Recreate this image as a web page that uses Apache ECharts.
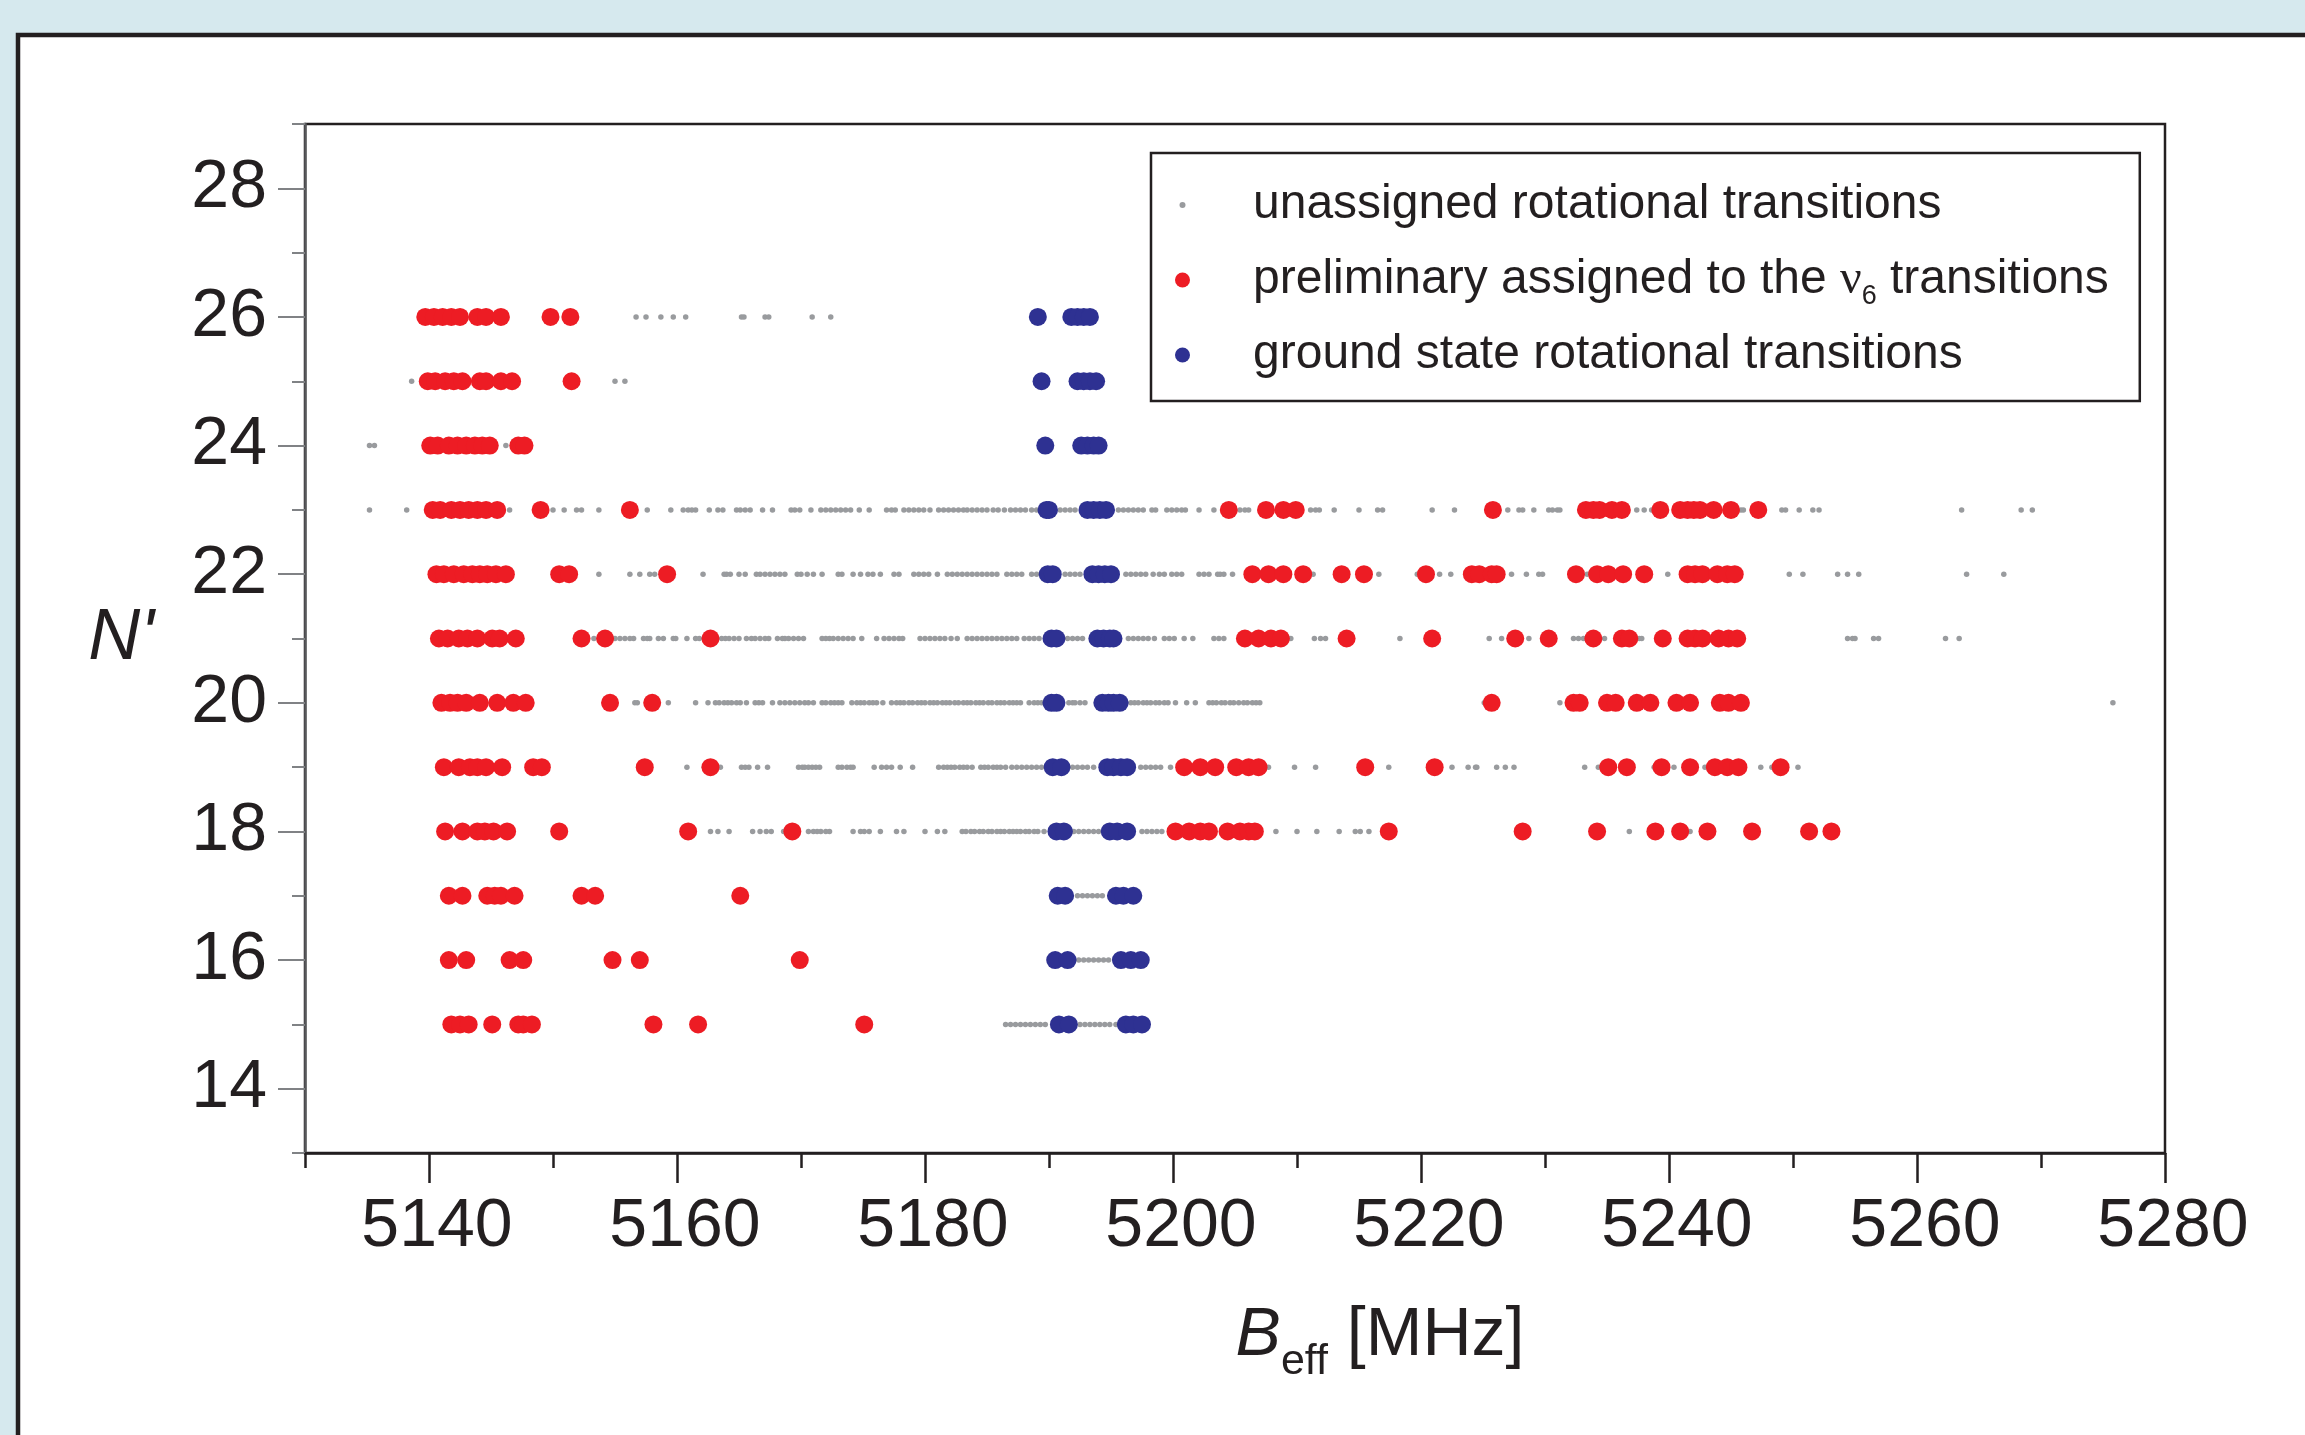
<!DOCTYPE html>
<html>
<head>
<meta charset="utf-8">
<script src="https://cdn.jsdelivr.net/npm/echarts@6/dist/echarts.min.js"></script>
<style>
  html, body { margin: 0; padding: 0; background: #d6e9ee; }
  #chart { width: 2305px; height: 1435px; }
</style>
</head>
<body>
<div id="chart"></div>
<script>
// B_eff values [MHz] per rotational level N'
const gray26 = [5156.7, 5157.5, 5158.7, 5159.7, 5160.7, 5165.2, 5165.4, 5167.1, 5167.4, 5170.9, 5172.4]
const gray25 = [5138.6, 5155.0, 5155.8]
const gray24 = [5135.2, 5135.6, 5146.2]
const gray23 = [5135.2, 5138.2, 5146.5, 5150.0, 5150.9, 5151.9, 5152.3, 5153.7, 5157.6, 5159.5, 5160.5, 5160.9, 5161.2, 5161.5,
  5162.6, 5163.3, 5163.7, 5164.8, 5165.1, 5165.5, 5165.9, 5166.9, 5167.7, 5169.2, 5169.5, 5169.9, 5170.8, 5171.6, 5172.0,
  5172.4, 5172.8, 5173.2, 5173.6, 5174.0, 5174.7, 5175.5, 5176.9, 5177.3, 5177.6, 5178.3, 5178.7, 5179.1, 5179.5, 5179.9,
  5180.4, 5181.1, 5181.5, 5181.9, 5182.3, 5182.7, 5183.1, 5183.4, 5183.8, 5184.2, 5184.6, 5185.0, 5185.5, 5185.9, 5186.4,
  5186.9, 5187.3, 5187.7, 5188.1, 5188.6, 5189.0, 5190.9, 5191.3, 5191.7, 5192.1, 5195.6, 5196.0, 5196.4, 5196.8, 5197.2,
  5197.6, 5198.3, 5198.6, 5199.5, 5199.9, 5200.3, 5200.7, 5201.0, 5202.1, 5203.3, 5205.4, 5205.8, 5206.1, 5211.1, 5211.5,
  5211.8, 5213.0, 5215.0, 5216.5, 5216.9, 5220.9, 5222.7, 5227.0, 5227.9, 5228.2, 5229.1, 5230.3, 5230.6, 5231.0, 5231.2,
  5237.4, 5238.0, 5238.6, 5245.8, 5246.0, 5249.1, 5249.4, 5250.5, 5251.6, 5252.1, 5263.6, 5268.4, 5269.3]
const gray22 = [5153.7, 5156.2, 5157.0, 5157.8, 5158.2, 5162.1, 5163.8, 5164.0, 5164.3, 5165.0, 5165.5, 5166.4, 5166.7, 5167.1,
  5167.5, 5167.9, 5168.3, 5168.7, 5169.7, 5170.0, 5170.5, 5171.0, 5171.7, 5173.0, 5173.3, 5174.2, 5174.8, 5175.4, 5175.8,
  5176.4, 5177.5, 5177.9, 5179.1, 5179.5, 5179.9, 5180.3, 5181.0, 5181.8, 5182.2, 5182.6, 5183.0, 5183.4, 5183.8, 5184.2,
  5184.6, 5185.0, 5185.4, 5185.8, 5186.6, 5187.0, 5187.4, 5187.8, 5188.6, 5189.0, 5191.3, 5191.7, 5192.1, 5192.5, 5196.2,
  5196.6, 5197.0, 5197.4, 5197.8, 5198.4, 5198.9, 5199.3, 5199.9, 5200.3, 5200.7, 5202.1, 5202.5, 5202.9, 5203.6, 5203.8,
  5204.1, 5204.8, 5211.3, 5216.6, 5219.7, 5221.5, 5222.4, 5227.3, 5228.5, 5229.5, 5229.8, 5233.4, 5239.9, 5249.7, 5250.8,
  5253.6, 5254.4, 5255.3, 5264.0, 5267.0]
const gray21 = [5153.3, 5155.0, 5155.4, 5155.8, 5156.2, 5156.5, 5157.3, 5157.6, 5157.8, 5158.5, 5158.9, 5159.7, 5159.9, 5160.8,
  5161.5, 5161.8, 5163.6, 5163.9, 5164.2, 5164.6, 5165.0, 5165.6, 5166.0, 5166.3, 5166.7, 5167.1, 5167.4, 5168.1, 5168.5,
  5168.7, 5169.0, 5169.4, 5169.8, 5170.2, 5171.7, 5172.0, 5172.3, 5172.6, 5173.0, 5173.4, 5173.8, 5174.2, 5174.9, 5176.1,
  5176.7, 5177.1, 5177.5, 5177.9, 5178.2, 5179.6, 5180.0, 5180.4, 5180.8, 5181.2, 5181.6, 5182.1, 5182.6, 5183.4, 5183.8,
  5184.2, 5184.6, 5185.0, 5185.4, 5185.8, 5186.2, 5186.6, 5187.0, 5187.4, 5188.0, 5188.4, 5188.8, 5189.2, 5191.5, 5191.9,
  5192.3, 5192.7, 5196.4, 5196.8, 5197.2, 5197.6, 5198.0, 5198.5, 5199.3, 5199.7, 5200.1, 5200.9, 5201.6, 5203.3, 5203.7,
  5204.1, 5209.5, 5211.4, 5211.9, 5212.3, 5218.3, 5225.5, 5226.5, 5228.7, 5232.3, 5232.7, 5233.1, 5234.8, 5237.6, 5237.8,
  5254.4, 5254.8, 5255.0, 5256.5, 5256.9, 5262.3, 5263.4]
const gray20 = [5156.6, 5156.8, 5159.3, 5161.5, 5162.5, 5163.1, 5163.4, 5163.8, 5164.1, 5164.4, 5164.8, 5165.1, 5165.6, 5166.3,
  5166.6, 5166.9, 5167.7, 5168.3, 5168.7, 5169.1, 5169.5, 5169.9, 5170.3, 5170.6, 5171.0, 5171.7, 5172.0, 5172.4, 5172.7,
  5173.0, 5173.3, 5174.1, 5174.5, 5174.8, 5175.1, 5175.5, 5175.8, 5176.1, 5176.6, 5177.3, 5177.7, 5178.0, 5178.3, 5178.7,
  5179.0, 5179.4, 5179.7, 5180.0, 5180.4, 5180.7, 5181.0, 5181.4, 5181.7, 5182.0, 5182.4, 5182.7, 5183.1, 5183.4, 5183.7,
  5184.1, 5184.4, 5184.7, 5185.1, 5185.4, 5185.8, 5186.1, 5186.4, 5186.8, 5187.1, 5187.4, 5187.7, 5188.4, 5188.8, 5189.1,
  5189.4, 5191.6, 5191.9, 5192.1, 5192.5, 5192.9, 5196.6, 5196.9, 5197.2, 5197.6, 5197.9, 5198.2, 5198.6, 5198.9, 5199.3,
  5199.6, 5200.2, 5201.1, 5201.8, 5202.9, 5203.2, 5203.5, 5203.9, 5204.2, 5204.6, 5204.9, 5205.3, 5205.7, 5206.0, 5206.4,
  5206.7, 5207.0, 5225.1, 5231.2, 5275.8]
const gray19 = [5160.8, 5162.2, 5163.5, 5165.2, 5165.5, 5165.8, 5166.5, 5167.3, 5169.8, 5170.1, 5170.3, 5170.6, 5170.9, 5171.2,
  5171.5, 5173.0, 5173.3, 5173.7, 5174.0, 5174.2, 5175.9, 5176.5, 5176.9, 5177.3, 5178.0, 5179.0, 5181.1, 5181.5, 5181.8,
  5182.1, 5182.4, 5182.8, 5183.1, 5183.4, 5183.8, 5184.5, 5184.8, 5185.1, 5185.5, 5185.8, 5186.1, 5186.5, 5187.0, 5187.4,
  5187.8, 5188.2, 5188.6, 5189.0, 5189.4, 5191.9, 5192.3, 5192.7, 5193.1, 5193.6, 5197.4, 5197.8, 5198.2, 5198.6, 5199.0,
  5199.8, 5207.7, 5209.8, 5211.5, 5217.4, 5222.5, 5223.8, 5224.4, 5224.5, 5226.1, 5226.8, 5227.5, 5233.2, 5234.3, 5238.8,
  5240.4, 5242.9, 5247.4, 5248.3, 5250.4]
const gray18 = [5162.7, 5163.3, 5164.2, 5166.1, 5166.7, 5167.2, 5167.6, 5168.6, 5170.6, 5171.0, 5171.3, 5171.6, 5172.0, 5172.3,
  5174.2, 5174.8, 5175.1, 5175.5, 5176.4, 5177.7, 5178.3, 5180.0, 5181.0, 5181.6, 5183.0, 5183.3, 5183.7, 5184.0, 5184.4,
  5184.7, 5185.1, 5185.4, 5185.8, 5186.1, 5186.4, 5186.8, 5187.1, 5187.4, 5187.7, 5188.1, 5188.4, 5188.8, 5189.1, 5189.6,
  5192.0, 5192.4, 5192.8, 5193.2, 5193.6, 5194.0, 5197.5, 5197.9, 5198.3, 5198.7, 5199.1, 5208.3, 5210.0, 5211.6, 5213.4,
  5214.7, 5215.1, 5215.8, 5236.8, 5241.7]
const gray17 = [5192.3, 5192.7, 5193.1, 5193.5, 5193.9, 5194.3]
const gray16 = [5192.4, 5192.8, 5193.2, 5193.6, 5194.0, 5194.4, 5194.8]
const gray15 = [5186.5, 5186.9, 5187.3, 5187.7, 5188.1, 5188.5, 5188.9, 5189.3, 5189.7, 5192.5, 5192.9, 5193.3, 5193.7, 5194.1,
  5194.5, 5194.9, 5195.4]

const red26 = [5139.7, 5140.4, 5141.1, 5141.8, 5142.5, 5143.9, 5144.6, 5145.8, 5149.8, 5151.4]
const red25 = [5139.9, 5140.5, 5141.3, 5142.0, 5142.7, 5144.1, 5144.6, 5145.8, 5146.7, 5151.5]
const red24 = [5140.1, 5140.7, 5141.6, 5142.3, 5143.0, 5143.7, 5144.3, 5144.9, 5147.2, 5147.7]
const red23 = [5140.3, 5140.9, 5141.8, 5142.5, 5143.2, 5143.9, 5144.6, 5145.5, 5149.0, 5156.2, 5204.5, 5207.5, 5208.9, 5209.9,
  5225.8, 5233.3, 5233.9, 5234.4, 5235.4, 5236.2, 5239.3, 5240.9, 5241.5, 5242.0, 5242.5, 5243.6, 5245.0, 5247.2]
const red22 = [5140.6, 5141.2, 5142.0, 5142.8, 5143.5, 5144.1, 5144.7, 5145.4, 5146.2, 5150.5, 5151.3, 5159.2, 5206.4, 5207.7,
  5208.9, 5210.5, 5213.6, 5215.4, 5220.4, 5224.1, 5224.7, 5225.7, 5226.1, 5232.5, 5234.2, 5235.1, 5236.3, 5238.0, 5241.5,
  5242.1, 5242.7, 5243.9, 5244.7, 5245.3]
const red21 = [5140.8, 5141.5, 5142.4, 5143.1, 5143.9, 5145.1, 5145.7, 5147.0, 5152.3, 5154.2, 5162.7, 5205.8, 5206.9, 5207.9,
  5208.7, 5214.0, 5220.9, 5227.6, 5230.3, 5233.9, 5236.2, 5236.8, 5239.5, 5241.5, 5242.1, 5242.7, 5244.0, 5244.8, 5245.5]
const red20 = [5141.0, 5141.7, 5142.3, 5143.0, 5144.1, 5145.5, 5146.8, 5147.8, 5154.6, 5158.0, 5225.7, 5232.3, 5232.8, 5235.0,
  5235.7, 5237.4, 5238.5, 5240.6, 5241.7, 5244.1, 5244.8, 5245.8]
const red19 = [5141.2, 5142.4, 5143.3, 5143.9, 5144.6, 5145.9, 5148.4, 5149.1, 5157.4, 5162.7, 5200.9, 5202.2, 5203.4, 5205.1,
  5206.1, 5206.9, 5215.5, 5221.1, 5235.1, 5236.6, 5239.4, 5241.7, 5243.7, 5244.7, 5245.6, 5249.0]
const red18 = [5141.3, 5142.7, 5143.9, 5144.5, 5145.2, 5146.3, 5150.5, 5160.9, 5169.3, 5200.2, 5201.3, 5202.2, 5202.9, 5204.4,
  5205.4, 5206.1, 5206.6, 5217.4, 5228.2, 5234.2, 5238.9, 5240.9, 5243.1, 5246.7, 5251.3, 5253.1]
const red17 = [5141.6, 5142.7, 5144.7, 5145.3, 5145.8, 5146.9, 5152.3, 5153.4, 5165.1]
const red16 = [5141.6, 5143.0, 5146.5, 5147.6, 5154.8, 5157.0, 5169.9]
const red15 = [5141.8, 5142.5, 5143.2, 5145.1, 5147.2, 5147.6, 5148.3, 5158.1, 5161.7, 5175.1]

const blue26 = [5189.1, 5191.8, 5192.3, 5192.8, 5193.3]
const blue25 = [5189.4, 5192.3, 5192.8, 5193.3, 5193.8]
const blue24 = [5189.7, 5192.6, 5193.1, 5193.6, 5194.0]
const blue23 = [5189.8, 5190.0, 5193.1, 5193.6, 5194.1, 5194.6]
const blue22 = [5189.9, 5190.3, 5193.5, 5194.0, 5194.5, 5195.0]
const blue21 = [5190.2, 5190.6, 5193.9, 5194.4, 5194.9, 5195.2]
const blue20 = [5190.2, 5190.6, 5194.3, 5194.8, 5195.2, 5195.7]
const blue19 = [5190.3, 5191.0, 5194.7, 5195.2, 5195.8, 5196.3]
const blue18 = [5190.6, 5191.2, 5194.9, 5195.5, 5196.3]
const blue17 = [5190.7, 5191.3, 5195.4, 5196.0, 5196.8]
const blue16 = [5190.5, 5191.5, 5195.8, 5196.6, 5197.4]
const blue15 = [5190.8, 5191.6, 5196.2, 5196.8, 5197.5]

const grayRows = [[26, gray26], [25, gray25], [24, gray24], [23, gray23], [22, gray22], [21, gray21],
  [20, gray20], [19, gray19], [18, gray18], [17, gray17], [16, gray16], [15, gray15]]
const redRows = [[26, red26], [25, red25], [24, red24], [23, red23], [22, red22], [21, red21],
  [20, red20], [19, red19], [18, red18], [17, red17], [16, red16], [15, red15]]
const blueRows = [[26, blue26], [25, blue25], [24, blue24], [23, blue23], [22, blue22], [21, blue21],
  [20, blue20], [19, blue19], [18, blue18], [17, blue17], [16, blue16], [15, blue15]]

const xMajorTicks = [5140, 5160, 5180, 5200, 5220, 5240, 5260, 5280]
const yMajorTicks = [14, 16, 18, 20, 22, 24, 26, 28]

const seriesNames = ['unassigned rotational transitions', 'preliminary assigned to the v6 transitions',
  'ground state rotational transitions']

function toPoints(rows) {
  let pts = []
  rows.forEach(([n, xs]) => xs.forEach(b => pts.push([b, n])))
  return pts
}

const ink = '#231f20'
const font = 'Liberation Sans, Arial, sans-serif'

let myChart = echarts.init(document.getElementById('chart'))
myChart.setOption({
  animation: false,
  backgroundColor: '#d6e9ee',
  textStyle: { fontFamily: font, color: ink },
  graphic: [{
    type: 'rect', z: -1,
    shape: { x: 18, y: 35, width: 2400, height: 1500 },
    style: { fill: '#ffffff', stroke: ink, lineWidth: 4.5 }
  }],
  grid: {
    left: 305, top: 124, right: 140, bottom: 282,
    show: true, borderColor: ink, borderWidth: 2.5, backgroundColor: 'transparent'
  },
  legend: {
    orient: 'vertical',
    left: 1151, top: 153,
    padding: [22, 31, 16, 24],
    borderColor: ink, borderWidth: 2.5,
    itemWidth: 15, itemHeight: 15, itemGap: 15,
    textStyle: {
      fontFamily: font, fontSize: 48, color: ink, lineHeight: 60,
      padding: [0, 0, 0, 58],
      rich: {
        nu: { fontFamily: 'Liberation Serif, serif', fontSize: 48, lineHeight: 60, color: ink },
        sub: { fontFamily: font, fontSize: 27, lineHeight: 27, verticalAlign: 'bottom', color: ink }
      }
    },
    formatter: function(name) {
      if (name === seriesNames[1]) return 'preliminary assigned to the {nu|\u03bd}{sub|6} transitions'
      return name
    },
    data: [
      { name: seriesNames[0], icon: 'path://M0,0M15,15M7.5,4.5A3,3,0,1,1,7.5,10.5A3,3,0,1,1,7.5,4.5Z' },
      { name: seriesNames[1], icon: 'circle' },
      { name: seriesNames[2], icon: 'circle' }
    ]
  },
  xAxis: [{
    type: 'value', min: 5130, max: 5280, interval: 10, position: 'bottom',
    axisLine: { show: true, lineStyle: { color: ink, width: 2.5 } },
    axisTick: { show: true, length: 15, lineStyle: { color: ink, width: 2.5 } },
    axisLabel: { show: false },
    splitLine: { show: false },
    name: '{b|B}{sub|eff} [MHz]',
    nameLocation: 'middle', nameGap: 135,
    nameTextStyle: {
      fontFamily: font, fontSize: 68, color: ink, lineHeight: 96,
      padding: [0, 0, 0, 290],
      rich: {
        b: { fontFamily: font, fontSize: 68, fontStyle: 'italic', lineHeight: 96, color: ink },
        sub: { fontFamily: font, fontSize: 43, lineHeight: 43, verticalAlign: 'bottom', color: ink }
      }
    }
  }, {
    type: 'value', min: 5130, max: 5280, interval: 10, position: 'bottom',
    axisLine: { show: false },
    axisTick: { show: true, length: 30, customValues: xMajorTicks, lineStyle: { color: ink, width: 2.5 } },
    axisLabel: {
      customValues: xMajorTicks, fontSize: 68, color: ink, margin: 40, padding: [0, 0, 0, 16],
      formatter: v => String(v)
    },
    splitLine: { show: false }
  }],
  yAxis: [{
    type: 'value', min: 13, max: 29, interval: 1, position: 'left',
    axisLine: { show: true, lineStyle: { color: '#58595b', width: 2.5 } },
    axisTick: { show: true, length: 13, lineStyle: { color: '#808285', width: 2 } },
    axisLabel: { show: false },
    splitLine: { show: false },
    name: "N'",
    nameLocation: 'middle', nameRotate: 0, nameGap: 151,
    nameTextStyle: { fontFamily: font, fontSize: 72, fontStyle: 'italic', color: ink, padding: [142, 0, 0, 0] }
  }, {
    type: 'value', min: 13, max: 29, interval: 1, position: 'left',
    axisLine: { show: false },
    axisTick: { show: true, length: 27, customValues: yMajorTicks, lineStyle: { color: '#808285', width: 2 } },
    axisLabel: { customValues: yMajorTicks, fontSize: 68, color: ink, margin: 38, padding: [0, 0, 14, 0] },
    splitLine: { show: false }
  }],
  series: [{
    name: seriesNames[0], type: 'scatter', xAxisIndex: 0, yAxisIndex: 0,
    symbolSize: 5.5, itemStyle: { color: '#999b9e', opacity: 1 }, z: 2,
    data: toPoints(grayRows)
  }, {
    name: seriesNames[1], type: 'scatter', xAxisIndex: 0, yAxisIndex: 0,
    symbolSize: 18, itemStyle: { color: '#ed1c24', opacity: 1 }, z: 3,
    data: toPoints(redRows)
  }, {
    name: seriesNames[2], type: 'scatter', xAxisIndex: 0, yAxisIndex: 0,
    symbolSize: 18, itemStyle: { color: '#2e3192', opacity: 1 }, z: 4,
    data: toPoints(blueRows)
  }]
})
</script>
</body>
</html>
